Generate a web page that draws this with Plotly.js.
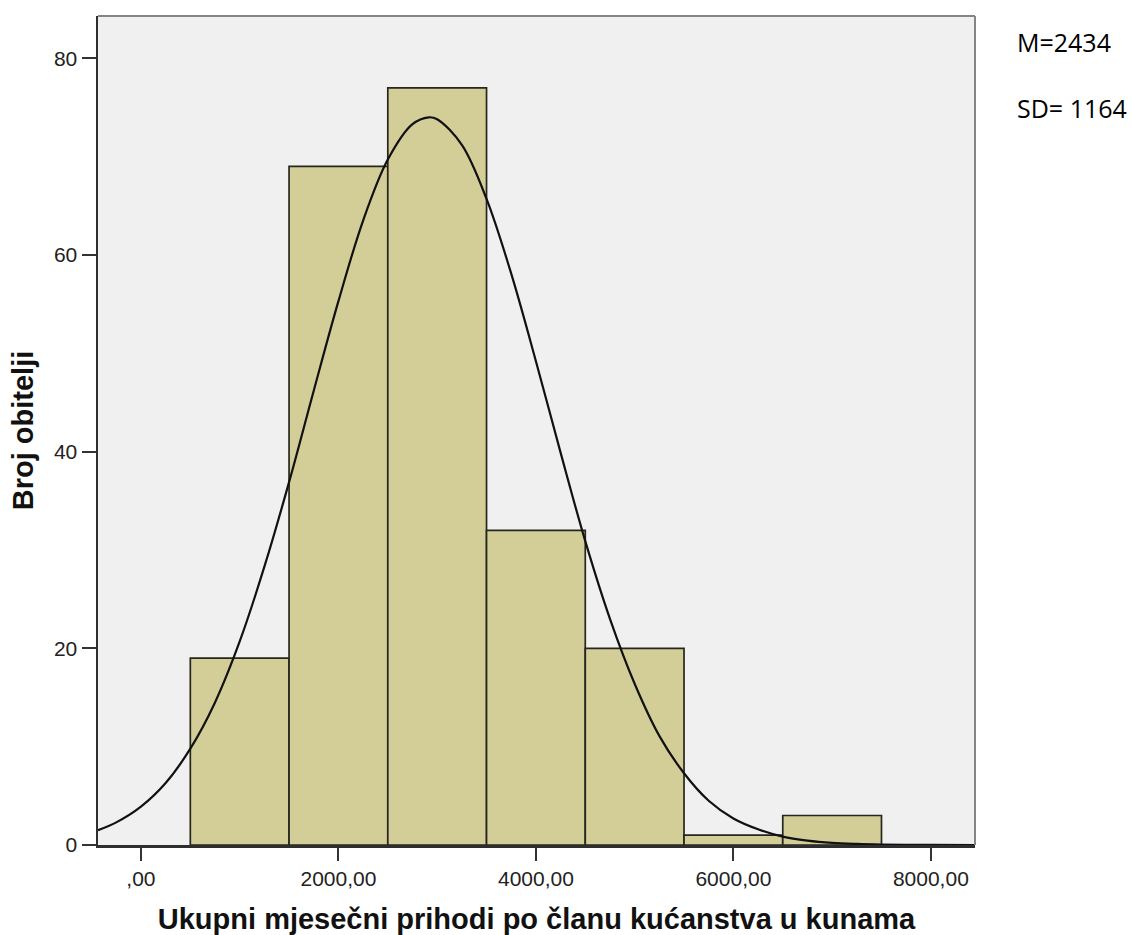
<!DOCTYPE html>
<html>
<head>
<meta charset="utf-8">
<script src="https://cdn.plot.ly/plotly-3.0.1.min.js"></script>
<style>
html,body{margin:0;padding:0;background:#fff;}
#chart{width:1132px;height:935px;}
</style>
</head>
<body>
<div id="chart"></div>
<script>
// Histogram bins (centre of each 1000-wide bin) and counts
var binCenters = [1000, 2000, 3000, 4000, 5000, 6000, 7000];
var binCounts  = [19, 69, 77, 32, 20, 1, 3];
var binWidth = 1000;

// Normal curve
var curveX = [-435, -250, 0, 250, 500, 750, 1000, 1250, 1500, 1750, 2000, 2250, 2500, 2750, 2915,
              3000, 3250, 3500, 3750, 4000, 4250, 4500, 4750, 5000, 5250, 5500, 5750, 6000, 6250,
              6500, 6750, 7000, 7250, 7500, 7750, 8000, 8447];
var curveY = [1.5, 2.3, 3.9, 6.3, 9.8, 14.5, 20.7, 28.3, 36.9, 46.2, 55.3, 63.5, 69.7, 73.3, 74.0,
              73.8, 71.2, 65.7, 58.1, 49.2, 39.9, 30.9, 23.0, 16.4, 11.1, 7.3, 4.5, 2.7, 1.6,
              0.85, 0.45, 0.22, 0.11, 0.05, 0.02, 0.01, 0.0];

// Axis ticks
var xTickVals = [0, 2000, 4000, 6000, 8000];
var xTickText = [",00", "2000,00", "4000,00", "6000,00", "8000,00"];
var yTickVals = [0, 20, 40, 60, 80];

var xTitle = "Ukupni mjesečni prihodi po članu kućanstva u kunama";
var yTitle = "Broj obitelji";
var statTexts = ["M=2434", "SD= 1164"];

var traces = [
  {
    type: 'bar',
    x: binCenters,
    y: binCounts,
    width: binCenters.map(function(){return binWidth;}),
    marker: {color: 'rgb(211,206,151)', line: {color: '#26261e', width: 1.7}},
    hoverinfo: 'x+y'
  },
  {
    type: 'scatter',
    mode: 'lines',
    x: curveX,
    y: curveY,
    line: {color: '#111', width: 2.2, shape: 'spline', smoothing: 1},
    hoverinfo: 'skip'
  }
];

var layout = {
  width: 1132,
  height: 935,
  margin: {l: 98, r: 157, t: 16, b: 90},
  paper_bgcolor: '#ffffff',
  plot_bgcolor: '#f0f0f0',
  showlegend: false,
  bargap: 0,
  xaxis: {
    range: [-435, 8447],
    tickvals: xTickVals,
    ticktext: xTickText,
    ticks: 'outside',
    ticklen: 13,
    tickwidth: 2,
    tickcolor: '#333',
    showgrid: false,
    zeroline: false,
    showline: true,
    linecolor: '#2e2e2e',
    linewidth: 2.5,
    tickfont: {family: 'Liberation Sans, Arial, sans-serif', size: 21, color: '#222'},
    title: {text: xTitle, font: {family: 'Liberation Sans, Arial, sans-serif', size: 29, color: '#111', weight: 'bold'}, standoff: 20},
    automargin: false
  },
  yaxis: {
    range: [0, 84.3],
    tickvals: yTickVals,
    ticks: 'outside',
    ticklen: 14,
    tickwidth: 2,
    tickcolor: '#333',
    showgrid: false,
    zeroline: false,
    showline: true,
    linecolor: '#2e2e2e',
    linewidth: 2.5,
    tickfont: {family: 'Liberation Sans, Arial, sans-serif', size: 21, color: '#222'},
    title: {text: yTitle, font: {family: 'Liberation Sans, Arial, sans-serif', size: 29, color: '#111', weight: 'bold'}, standoff: 12},
    automargin: false
  },
  shapes: [
    {type: 'line', xref: 'paper', yref: 'paper', x0: 0, x1: 1, y0: 1, y1: 1, line: {color: '#858585', width: 2}},
    {type: 'line', xref: 'paper', yref: 'paper', x0: 1, x1: 1, y0: 0, y1: 1, line: {color: '#858585', width: 2}}
  ],
  annotations: [
    {xref: 'paper', yref: 'paper', x: 1.046, y: 0.969, xanchor: 'left', yanchor: 'middle', showarrow: false,
     text: statTexts[0], font: {family: 'Open Sans, sans-serif', size: 25, color: '#000'}},
    {xref: 'paper', yref: 'paper', x: 1.046, y: 0.889, xanchor: 'left', yanchor: 'middle', showarrow: false,
     text: statTexts[1], font: {family: 'Open Sans, sans-serif', size: 25, color: '#000'}}
  ]
};

Plotly.newPlot('chart', traces, layout, {displayModeBar: false, staticPlot: true});
</script>
</body>
</html>
